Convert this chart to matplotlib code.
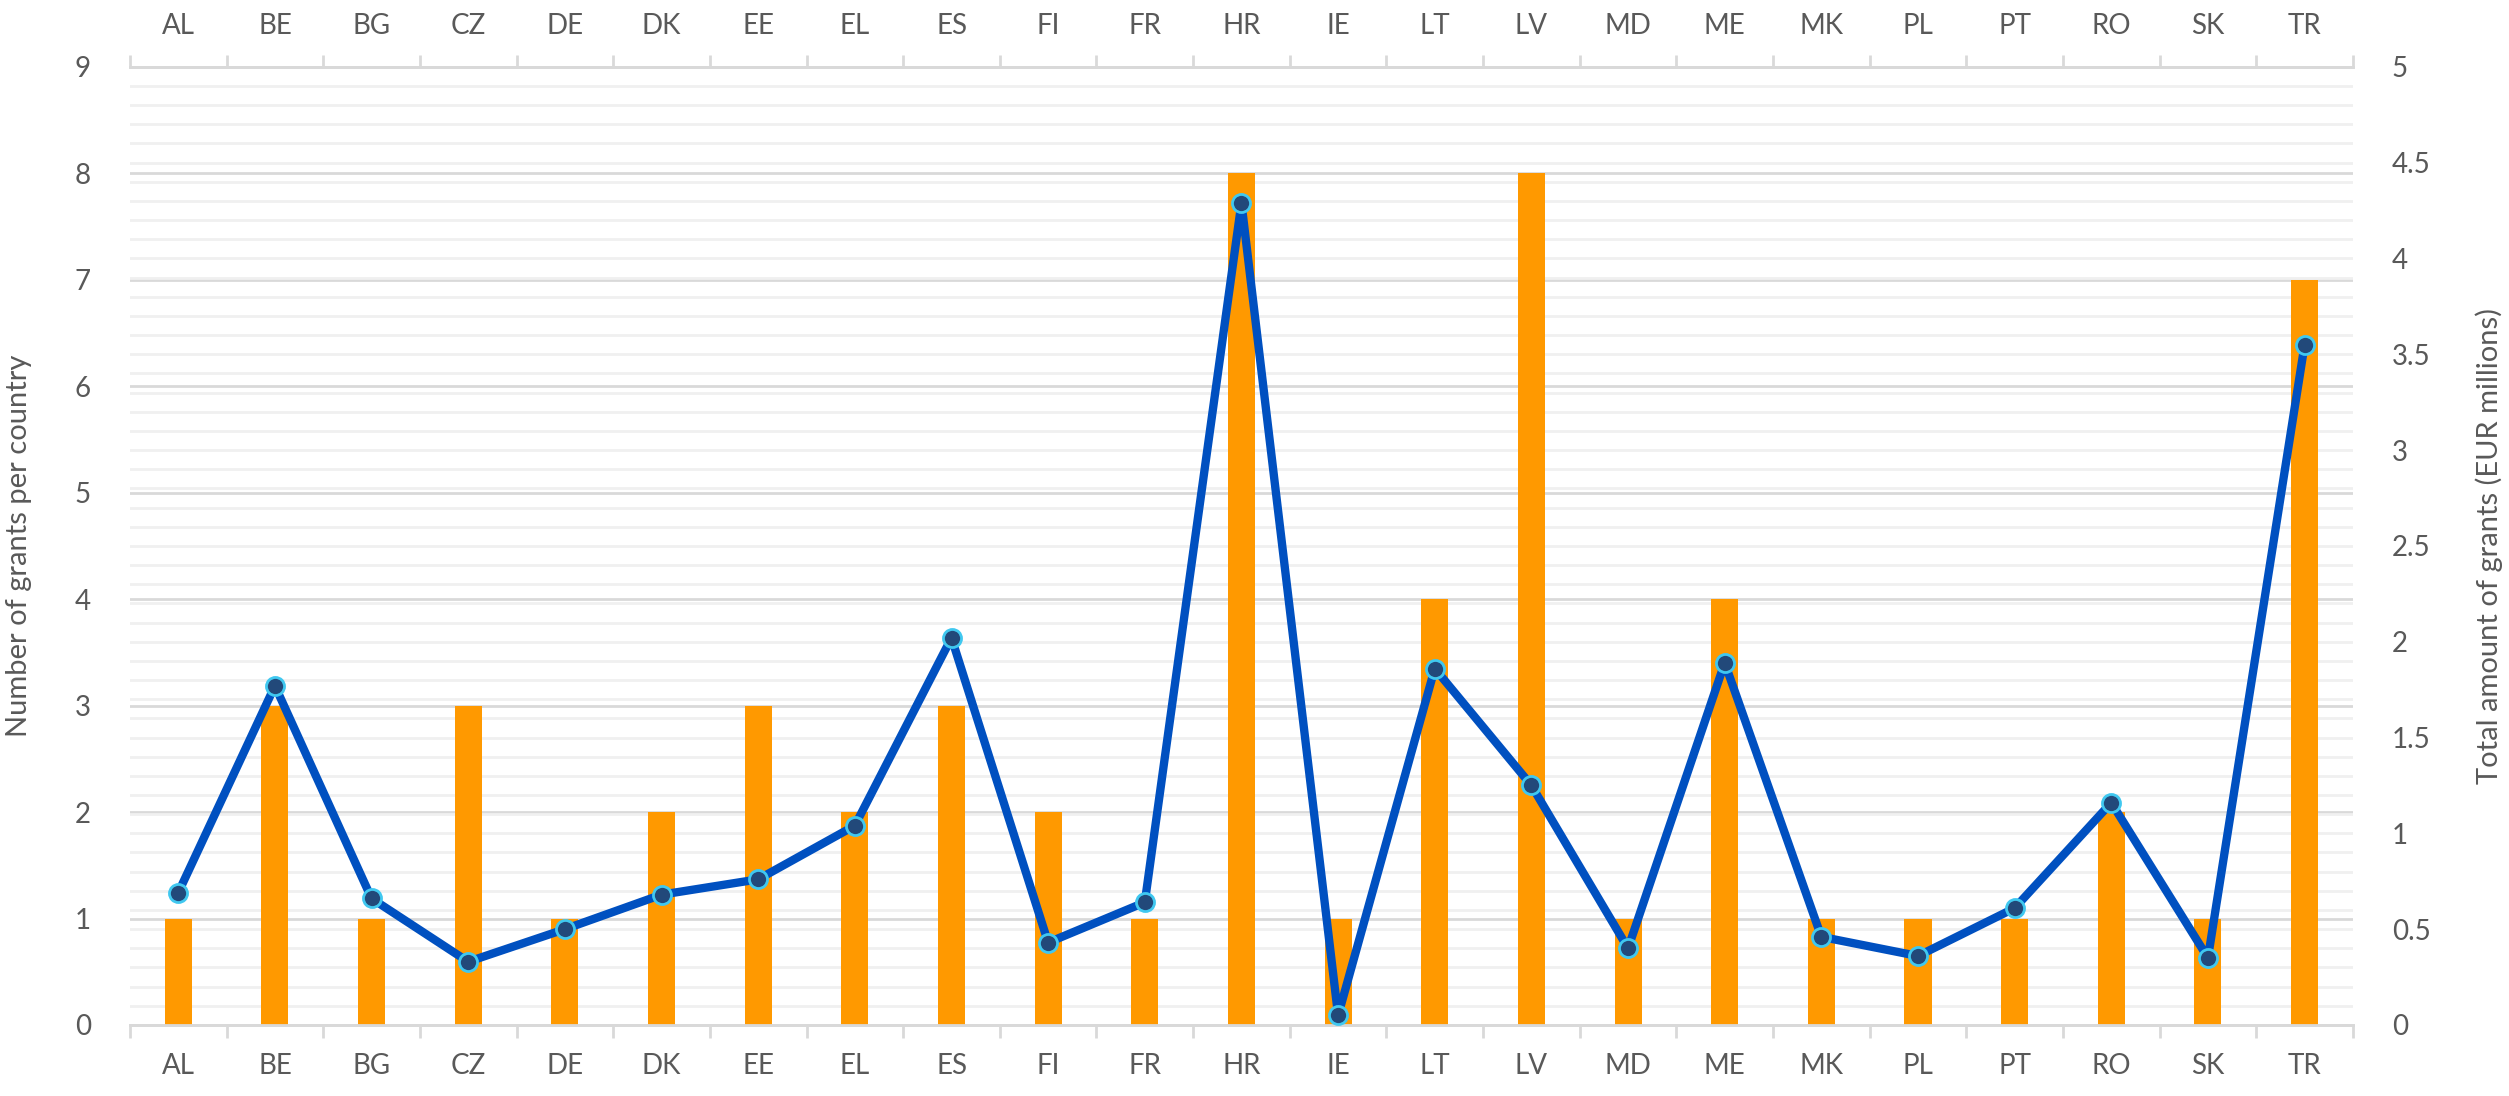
import matplotlib.pyplot as plt
import numpy as np
from matplotlib.ticker import MultipleLocator, FixedLocator, NullFormatter

countries = ['AL', 'BE', 'BG', 'CZ', 'DE', 'DK', 'EE', 'EL', 'ES', 'FI', 'FR', 'HR',
             'IE', 'LT', 'LV', 'MD', 'ME', 'MK', 'PL', 'PT', 'RO', 'SK', 'TR']
n_grants = [1, 3, 1, 3, 1, 2, 3, 2, 3, 2, 1, 8, 1, 4, 8, 1, 4, 1, 1, 1, 2, 1, 7]
amount_eur_m = [0.69, 1.77, 0.66, 0.33, 0.50, 0.68, 0.76, 1.04, 2.02, 0.43, 0.64, 4.29,
                0.05, 1.86, 1.25, 0.40, 1.89, 0.46, 0.36, 0.61, 1.16, 0.35, 3.55]

plt.rcParams['font.family'] = ['Lato', 'DejaVu Sans']
txt = '#595959'

fig = plt.figure(figsize=(25.09, 10.96), dpi=100)
ax = fig.add_axes([0.0518, 0.0648, 0.886, 0.8743])
ax2 = ax.twinx()

x = np.arange(len(countries))
ax.bar(x, n_grants, width=0.28, color='#FF9900', zorder=3)
ax2.plot(x, amount_eur_m, color='#0050C0', lw=6, marker='o', ms=13,
         mfc='#22497A', mec='#40C8F0', mew=2, zorder=4)

ax.set_xlim(-0.5, len(countries) - 0.5)
ax.set_ylim(0, 9)
ax2.set_ylim(0, 5)

# gridlines: integers on the left axis, 0.1 steps of the right axis
ax.yaxis.set_major_locator(MultipleLocator(1))
ax.yaxis.set_minor_locator(MultipleLocator(0.18))
ax.grid(axis='y', which='major', color='#d9d9d9', lw=2, zorder=0)
ax.grid(axis='y', which='minor', color='#f0f0f0', lw=2, zorder=0)
ax.tick_params(axis='y', which='both', length=0, labelsize=20, labelcolor=txt, pad=28)
ax2.set_yticks(np.arange(0, 5.01, 0.5))
ax2.set_yticklabels(['0', '0.5', '1', '1.5', '2', '2.5', '3', '3.5', '4', '4.5', '5'])
ax2.tick_params(axis='y', length=0, labelsize=20, labelcolor=txt, pad=28)

# category axis: ticks between categories, labels at centres, top and bottom
ax.xaxis.set_major_locator(FixedLocator(np.arange(-0.5, len(countries), 1)))
ax.xaxis.set_major_formatter(NullFormatter())
ax.xaxis.set_minor_locator(FixedLocator(x))
ax.set_xticklabels(countries, minor=True)
ax.tick_params(axis='x', which='major', length=9, width=2, color='#d9d9d9',
               top=True, bottom=True, direction='out')
ax.tick_params(axis='x', which='minor', length=0, labelsize=20, labelcolor=txt,
               top=True, labeltop=True, bottom=True, labelbottom=True, pad=20)

for a in (ax, ax2):
    a.spines['left'].set_visible(False)
    a.spines['right'].set_visible(False)
    for s in ('top', 'bottom'):
        a.spines[s].set_color('#d9d9d9')
        a.spines[s].set_linewidth(2)

ax.set_ylabel('Number of grants per country', fontsize=21, color=txt, va='center')
ax.yaxis.set_label_coords(-0.05, 0.5)
ax2.set_ylabel('Total amount of grants (EUR millions)', fontsize=21, color=txt, va='center')
ax2.yaxis.set_label_coords(1.0615, 0.5)

fig.savefig('out.png', dpi=100)
